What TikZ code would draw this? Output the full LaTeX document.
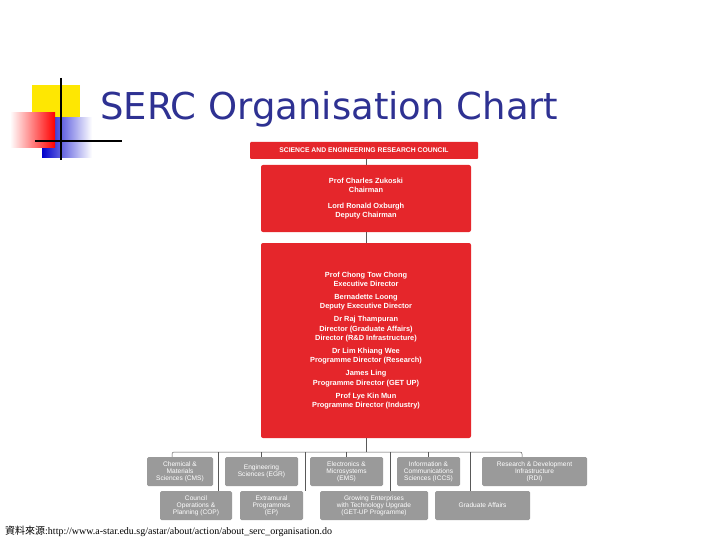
\documentclass[tikz,border=0pt]{standalone}
\usepackage{fontspec}
\setmainfont{Liberation Sans}
\newfontfamily\serifm{Liberation Serif}
\newfontfamily\titlef{DejaVu Sans}
\newfontfamily\cjk{Noto Sans CJK TC}
\definecolor{serred}{HTML}{E5262B}
\definecolor{titleblue}{HTML}{2E3192}
\definecolor{boxgray}{HTML}{9A9A9A}
\begin{document}
\begin{tikzpicture}[x=1pt,y=-1pt,
  redbox/.style={fill=serred,draw=none,rounded corners=2pt,text=white,font=\fontsize{7.4}{9.6}\selectfont\bfseries,align=center,inner sep=0pt},
  graybox/.style={fill=boxgray,draw=none,rounded corners=1.5pt,text=white,font=\fontsize{6.6}{7.2}\selectfont,align=center,inner sep=0pt},
  conn/.style={draw=gray!70!black,line width=0.5pt}]
\useasboundingbox (0,0) rectangle (720,540);
% decoration
\fill[yellow!90!orange] (32,85) rectangle (80,122);
\shade[left color=blue!80!black,right color=white] (42,118) rectangle (92,158);
\shade[left color=white,right color=red] (10,113) rectangle (55,148);
\draw[line width=1.6pt] (61,78) -- (61,160);
\draw[line width=1.6pt] (35,141) -- (122,141);
\node[anchor=base west,text=titleblue,font=\titlef\fontsize{37}{42}\selectfont,inner sep=0] (title) at (100,120) {SERC Organisation Chart};
% red boxes
\node[redbox,minimum width=228,minimum height=17,rounded corners=1pt,font=\fontsize{6.8}{8}\selectfont\bfseries] (serc) at (364,150.5) {SCIENCE AND ENGINEERING RESEARCH COUNCIL};
\node[redbox,minimum width=210,minimum height=67] (chair) at (366,198.5) {Prof Charles Zukoski\\Chairman\\[6pt]Lord Ronald Oxburgh\\Deputy Chairman};
\node[redbox,minimum width=210,minimum height=195,font=\fontsize{7.4}{9.2}\selectfont\bfseries] (exec) at (366,340.5) {Prof Chong Tow Chong\\Executive Director\\[4pt]Bernadette Loong\\Deputy Executive Director\\[4pt]Dr Raj Thampuran\\Director (Graduate Affairs)\\Director (R\&D Infrastructure)\\[4pt]Dr Lim Khiang Wee\\Programme Director (Research)\\[4pt]James Ling\\Programme Director (GET UP)\\[4pt]Prof Lye Kin Mun\\Programme Director (Industry)};
% gray boxes top row
\node[graybox,minimum width=66,minimum height=29] (cms) at (180,471.5) {Chemical \&\\Materials\\Sciences (CMS)};
\node[graybox,minimum width=73,minimum height=29] (ege) at (261.5,471.5) {Engineering\\Sciences (EGR)};
\node[graybox,minimum width=73,minimum height=29] (ems) at (346.5,471.5) {Electronics \&\\Microsystems\\(EMS)};
\node[graybox,minimum width=63,minimum height=29] (iccs) at (428.5,471.5) {Information \&\\Communications\\Sciences (ICCS)};
\node[graybox,minimum width=105,minimum height=29] (rdi) at (534.5,471.5) {Research \& Development\\Infrastructure\\(RDI)};
% bottom row
\node[graybox,minimum width=72,minimum height=29] (cop) at (196,505.5) {Council\\Operations \&\\Planning (COP)};
\node[graybox,minimum width=63,minimum height=29] (ep) at (271.5,505.5) {Extramural\\Programmes\\(EP)};
\node[graybox,minimum width=108,minimum height=29] (getup) at (374,505.5) {Growing Enterprises\\with Technology Upgrade\\(GET-UP Programme)};
\node[graybox,minimum width=95,minimum height=29] (ga) at (482.5,505.5) {Graduate Affairs};
% connectors
\coordinate (busL) at (172,452);
\coordinate (busR) at (522,452);
\draw[conn] (serc.south -| chair.north) -- (chair.north);
\draw[conn] (chair.south) -- (exec.north);
\draw[conn] (exec.south) -- (exec.south |- busL);
\draw[conn,rounded corners=2pt] (cms.north -| busL) -- (busL) -- (busR) -- (rdi.north -| busR);
\draw[conn] (ege.north |- busL) -- (ege.north);
\draw[conn] (ems.north |- busL) -- (ems.north);
\draw[conn] (iccs.north |- busL) -- (iccs.north);
\draw[conn] (218,452) -- (cop.north -| 218,0);
\draw[conn] (305,452) -- (ep.north -| 305,0);
\draw[conn] (390,452) -- (getup.north -| 390,0);
\draw[conn] (470,452) -- (ga.north -| 470,0);
% footer
\node[anchor=base west,inner sep=0,font=\fontsize{10}{12}\selectfont] (src) at (5,534) {{\cjk 資料來源}{\serifm :http://www.a-star.edu.sg/astar/about/action/about\_serc\_organisation.do}};
\end{tikzpicture}
\end{document}
